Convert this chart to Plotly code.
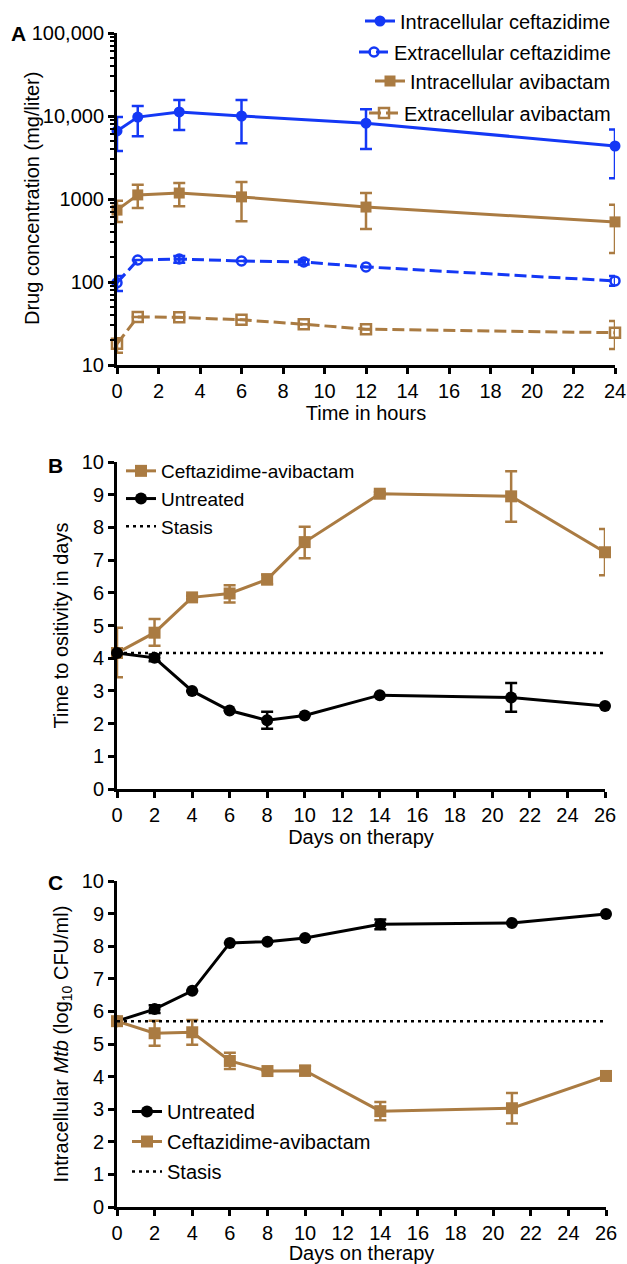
import plotly.graph_objects as go

# ---------------- Data ----------------
# Panel A (hours)
hours = [0, 1, 3, 6, 12, 24]
ic_cef = [6600, 9700, 11200, 10000, 8200, 4350]
ic_cef_hi = [9700, 13200, 15600, 15600, 12100, 6900]
ic_cef_lo = [3800, 5700, 6800, 4700, 4000, 1780]

hours_ext = [0, 1, 3, 6, 9, 12, 24]
ec_cef = [98, 184, 189, 179, 174, 152, 103]
ec_cef_hi = [118, 184, 205, 179, 186, 152, 118]
ec_cef_lo = [78, 184, 170, 179, 162, 152, 90]

ic_avi = [735, 1120, 1180, 1060, 800, 530]
ic_avi_hi = [950, 1480, 1560, 1600, 1180, 850]
ic_avi_lo = [530, 780, 820, 540, 435, 224]

ec_avi = [18, 38, 37.5, 35, 31, 27, 24.5]
ec_avi_hi = [21, 38, 37.5, 35, 31, 27, 34]
ec_avi_lo = [14, 38, 37.5, 35, 31, 27, 15.6]

# Panel B (days) time to positivity
days = [0, 2, 4, 6, 8, 10, 14, 21, 26]
ttp_ca = [4.16, 4.78, 5.86, 5.98, 6.41, 7.55, 9.03, 8.95, 7.24]
ttp_ca_err_hi = [0.77, 0.42, 0.05, 0.25, 0.15, 0.47, 0.05, 0.77, 0.71]
ttp_ca_err_lo = [0.74, 0.40, 0.05, 0.28, 0.15, 0.49, 0.05, 0.78, 0.70]
ttp_un = [4.16, 4.01, 3.0, 2.4, 2.1, 2.25, 2.87, 2.8, 2.54]
ttp_un_err = [0.0, 0.1, 0.0, 0.0, 0.26, 0.0, 0.0, 0.44, 0.0]
stasis_b = 4.16

# Panel C (days) intracellular Mtb
cfu_un = [5.70, 6.07, 6.63, 8.10, 8.14, 8.25, 8.67, 8.71, 8.99]
cfu_un_err = [0.0, 0.12, 0.0, 0.0, 0.0, 0.0, 0.15, 0.0, 0.0]
cfu_ca = [5.70, 5.33, 5.36, 4.48, 4.17, 4.18, 2.94, 3.03, 4.02]
cfu_ca_err = [0.0, 0.38, 0.38, 0.25, 0.0, 0.15, 0.28, 0.47, 0.0]
stasis_c = 5.70

log_tickvals = [10, 100, 1000, 10000, 100000]
log_ticktext = ["10", "100", "1000", "10,000", "100,000"]

# ---------------- Style ----------------
W, H = 627, 1264
BLUE = "#1438F5"
BROWN = "#AA7B42"
BLACK = "#000000"
FONT = "Liberation Sans, Arial, sans-serif"
FS = 20


def fx(px):
    return px / W


def fy(py):
    return 1 - py / H


def asym(vals, hi, lo):
    return dict(type="data", symmetric=False,
                array=[h - v for h, v in zip(hi, vals)],
                arrayminus=[v - l for v, l in zip(vals, lo)],
                thickness=2.5, width=6)


fig = go.Figure()

# Panel A traces, each in its own legend for right alignment
fig.add_trace(go.Scatter(
    x=hours, y=ic_cef, mode="lines+markers", name="Intracellular ceftazidime",
    line=dict(color=BLUE, width=3), marker=dict(symbol="circle", size=11, color=BLUE),
    error_y=dict(color=BLUE, **asym(ic_cef, ic_cef_hi, ic_cef_lo)),
    xaxis="x", yaxis="y", legend="legend", cliponaxis=False))
fig.add_trace(go.Scatter(
    x=hours_ext, y=ec_cef, mode="lines+markers", name="Extracellular ceftazidime",
    line=dict(color=BLUE, width=3, dash="12px,5px"),
    marker=dict(symbol="circle-open", size=9, color=BLUE, line=dict(width=2.5)),
    error_y=dict(color=BLUE, **asym(ec_cef, ec_cef_hi, ec_cef_lo)),
    xaxis="x", yaxis="y", legend="legend2", cliponaxis=False))
fig.add_trace(go.Scatter(
    x=hours, y=ic_avi, mode="lines+markers", name="Intracellular avibactam",
    line=dict(color=BROWN, width=3), marker=dict(symbol="square", size=11, color=BROWN),
    error_y=dict(color=BROWN, **asym(ic_avi, ic_avi_hi, ic_avi_lo)),
    xaxis="x", yaxis="y", legend="legend3", cliponaxis=False))
fig.add_trace(go.Scatter(
    x=hours_ext, y=ec_avi, mode="lines+markers", name="Extracellular avibactam",
    line=dict(color=BROWN, width=3, dash="12px,5px"),
    marker=dict(symbol="square-open", size=10, color=BROWN, line=dict(width=2.5)),
    error_y=dict(color=BROWN, **asym(ec_avi, ec_avi_hi, ec_avi_lo)),
    xaxis="x", yaxis="y", legend="legend4", cliponaxis=False))

# Panel B
fig.add_trace(go.Scatter(
    x=days, y=ttp_ca, mode="lines+markers", name="Ceftazidime-avibactam",
    line=dict(color=BROWN, width=3), marker=dict(symbol="square", size=12, color=BROWN),
    error_y=dict(type="data", symmetric=False, array=ttp_ca_err_hi, arrayminus=ttp_ca_err_lo,
                 color=BROWN, thickness=2.5, width=6),
    xaxis="x2", yaxis="y2", legend="legend5", cliponaxis=False))
fig.add_trace(go.Scatter(
    x=days, y=ttp_un, mode="lines+markers", name="Untreated",
    line=dict(color=BLACK, width=3), marker=dict(symbol="circle", size=12, color=BLACK),
    error_y=dict(type="data", array=ttp_un_err, color=BLACK, thickness=2.5, width=6),
    xaxis="x2", yaxis="y2", legend="legend5", cliponaxis=False))
fig.add_trace(go.Scatter(
    x=[days[0], days[-1]], y=[stasis_b, stasis_b], mode="lines", name="Stasis",
    line=dict(color=BLACK, width=2.5, dash="3px,4px"),
    xaxis="x2", yaxis="y2", legend="legend5"))

# Panel C
fig.add_trace(go.Scatter(
    x=days, y=cfu_un, mode="lines+markers", name="Untreated", legendgroup="c1",
    line=dict(color=BLACK, width=3), marker=dict(symbol="circle", size=12, color=BLACK),
    error_y=dict(type="data", array=cfu_un_err, color=BLACK, thickness=2.5, width=6),
    xaxis="x3", yaxis="y3", legend="legend6", cliponaxis=False))
fig.add_trace(go.Scatter(
    x=days, y=cfu_ca, mode="lines+markers", name="Ceftazidime-avibactam", legendgroup="c2",
    line=dict(color=BROWN, width=3), marker=dict(symbol="square", size=12, color=BROWN),
    error_y=dict(type="data", array=cfu_ca_err, color=BROWN, thickness=2.5, width=6),
    xaxis="x3", yaxis="y3", legend="legend6", cliponaxis=False))
fig.add_trace(go.Scatter(
    x=[days[0], days[-1]], y=[stasis_c, stasis_c], mode="lines", name="Stasis", legendgroup="c3",
    line=dict(color=BLACK, width=2.5, dash="3px,4px"),
    xaxis="x3", yaxis="y3", legend="legend6"))

axis_common = dict(showline=True, linecolor="black", linewidth=3, ticks="outside",
                   ticklen=6, tickwidth=2.5, tickcolor="black", showgrid=False,
                   zeroline=False, tickfont=dict(family=FONT, size=FS, color="black"),
                   mirror=False, automargin=False)

leg_font = dict(family=FONT, size=FS, color="black")


def right_legend(ycenter):
    return dict(x=fx(616), y=fy(ycenter), xanchor="right", yanchor="middle",
                bgcolor="rgba(0,0,0,0)", font=leg_font, itemwidth=30, borderwidth=0)


fig.update_layout(
    template="none",
    width=W, height=H, margin=dict(l=0, r=0, t=0, b=0, pad=0, autoexpand=False),
    paper_bgcolor="white", plot_bgcolor="white",
    font=dict(family=FONT, size=FS, color="black"),
    xaxis=dict(domain=[fx(117), fx(615)], range=[0, 24], tickvals=list(range(0, 25, 2)),
               anchor="y", title=dict(text="Time in hours", font=dict(size=FS), standoff=4),
               **axis_common),
    yaxis=dict(domain=[fy(365), fy(33)], type="log", range=[1, 5], anchor="x",
               tickvals=log_tickvals, ticktext=log_ticktext,
               minor=dict(ticks="outside", ticklen=4, tickwidth=2, tickcolor="black",
                          dtick="D1", showgrid=False),
               **axis_common),
    xaxis2=dict(domain=[fx(117), fx(605)], range=[0, 26], tickvals=list(range(0, 27, 2)),
                anchor="y2", title=dict(text="Days on therapy", font=dict(size=FS), standoff=3),
                **axis_common),
    yaxis2=dict(domain=[fy(789), fy(462)], range=[0, 10], tickvals=list(range(0, 11)),
                anchor="x2", title=dict(text="Time to ositivity in days", font=dict(size=FS), standoff=8),
                **axis_common),
    xaxis3=dict(domain=[fx(117), fx(606)], range=[0, 26], tickvals=list(range(0, 27, 2)),
                anchor="y3", title=dict(text="Days on therapy", font=dict(size=FS), standoff=8),
                **axis_common),
    yaxis3=dict(domain=[fy(1207), fy(881)], range=[0, 10], tickvals=list(range(0, 11)),
                anchor="x3",
                title=dict(text="Intracellular <i>Mtb</i> (log<sub>10</sub> CFU/ml)",
                           font=dict(size=FS), standoff=8),
                **axis_common),
    legend=right_legend(21),
    legend2=right_legend(52),
    legend3=right_legend(81),
    legend4=right_legend(113),
    legend5=dict(x=fx(121), y=fy(452), xanchor="left", yanchor="top",
                 bgcolor="rgba(0,0,0,0)", font=dict(family=FONT, size=19, color="black"),
                 itemwidth=30),
    legend6=dict(x=fx(127), y=fy(1092), xanchor="left", yanchor="top",
                 bgcolor="rgba(0,0,0,0)", font=leg_font, itemwidth=30, tracegroupgap=1),
    showlegend=True,
    annotations=[
        dict(text="Drug concentration (mg/liter)", x=fx(32), y=fy(199), xref="paper", yref="paper",
             textangle=-90, showarrow=False, font=dict(family=FONT, size=FS, color="black"),
             xanchor="center", yanchor="middle"),
        dict(text="<b>A</b>", x=fx(18), y=fy(33), xref="paper", yref="paper", showarrow=False,
             font=dict(family=FONT, size=21, color="black"), xanchor="center", yanchor="middle"),
        dict(text="<b>B</b>", x=fx(55), y=fy(465), xref="paper", yref="paper", showarrow=False,
             font=dict(family=FONT, size=21, color="black"), xanchor="center", yanchor="middle"),
        dict(text="<b>C</b>", x=fx(55), y=fy(883), xref="paper", yref="paper", showarrow=False,
             font=dict(family=FONT, size=21, color="black"), xanchor="center", yanchor="middle"),
    ],
)

fig.write_html(
    "out.html",
    config={"displayModeBar": False},
    post_script="document.body.style.margin='0';document.body.style.overflow='hidden';",
)
